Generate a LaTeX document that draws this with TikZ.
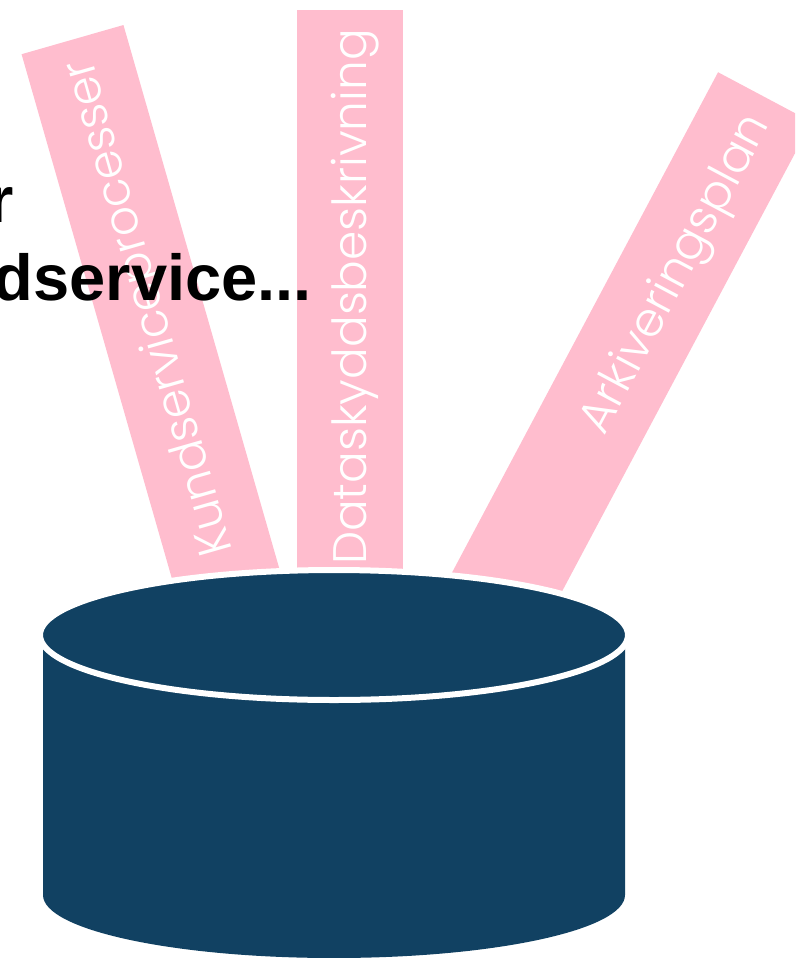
\documentclass[tikz,border=0pt]{standalone}
\usepackage{xcolor}
\usepackage{fontspec}
\setmainfont{Poppins}[UprightFont=* Light]
\newfontfamily\headfont{Liberation Sans}
\usepackage{tikz}
\usetikzlibrary{shapes.geometric}
\definecolor{barpink}{HTML}{FFBDCE}
\definecolor{drumblue}{HTML}{114162}

\begin{document}
\begin{tikzpicture}[
    x=1pt, y=-1pt,
    bar/.style={fill=barpink, minimum width=600pt, minimum height=106pt, inner sep=0pt},
    barlabel/.style={text=white, inner sep=0pt, font=\fontsize{47}{56}\selectfont},
    heading/.style={anchor=base east, inner sep=0pt, font=\headfont\fontsize{65}{78}\selectfont\bfseries},
    lid/.style={ellipse, fill=drumblue, draw=white, line width=6pt, inner sep=0pt,
                minimum width=588pt, minimum height=130pt},
]
\path[use as bounding box, clip] (0,0) rectangle (795,958);

% Bars
\node[bar, rotate=106] (kundbar) at (155.2,328) {};
\node[bar, rotate=90] (databar) at (350,310) {};
\node[bar, rotate=62] (arkivbar) at (624,362) {};
\node[barlabel, rotate=106] (kundlabel) at (151,307) {Kundserviceprocesser};
\node[barlabel, rotate=90] (datalabel) at (355,297) {Dataskyddsbeskrivning};
\node[barlabel, rotate=62] (arkivlabel) at (677,275) {Arkiveringsplan};

% Heading behind the drum
\node[heading] (headone) at (14,222) {r};
\node[heading] (headtwo) at (312,300) {dservice...};

% Drum
\fill[drumblue] (43,635) -- (43,895) arc[start angle=180, end angle=360, x radius=291pt, y radius=63pt] -- (625,635) -- cycle;
\node[lid] (drumlid) at (334,635) {};
\end{tikzpicture}
\end{document}
